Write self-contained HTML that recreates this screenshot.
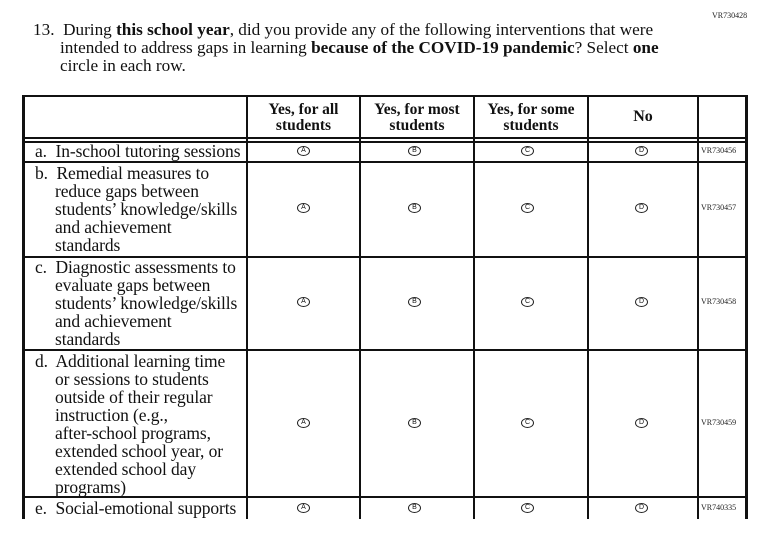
<!DOCTYPE html>
<html><head><meta charset="utf-8"><style>
body{margin:0;width:769px;height:534px;background:#fff;position:relative;font-family:"Liberation Serif",serif;color:#111;overflow:hidden}
.a{position:absolute;white-space:nowrap}
.t{font-size:17.5px;line-height:18px;letter-spacing:-0.1px}
.tt{font-size:17.2px;line-height:18px}
.vl{position:absolute;background:#111}
.hl{position:absolute;background:#111;height:1.5px}
.h{position:absolute;font-weight:bold;font-size:15.5px;line-height:16px;text-align:center}
.c{position:absolute;width:11px;height:8px;border:1px solid #222;border-radius:50%;font-size:7px;line-height:8px;text-align:center;font-family:"Liberation Sans",sans-serif}
.vr{position:absolute;font-size:8px;color:#222}
</style></head><body>
<div class="vr" style="left:712px;top:11px">VR730428</div>
<div class="a tt" style="left:33px;top:21px">13.&nbsp; During <b>this school year</b>, did you provide any of the following interventions that were</div>
<div class="a tt" style="left:60px;top:39px">intended to address gaps in learning <b>because of the COVID-19 pandemic</b>? Select <b>one</b></div>
<div class="a tt" style="left:60px;top:57px">circle in each row.</div>

<div class="hl" style="left:22px;top:95px;width:726px;height:2px"></div>
<div class="hl" style="left:22px;top:137px;width:726px"></div>
<div class="hl" style="left:22px;top:141px;width:726px"></div>
<div class="hl" style="left:22px;top:161px;width:726px"></div>
<div class="hl" style="left:22px;top:256px;width:726px"></div>
<div class="hl" style="left:22px;top:349px;width:726px"></div>
<div class="hl" style="left:22px;top:496px;width:726px"></div>

<div class="vl" style="left:22px;top:95px;width:3px;height:424px"></div>
<div class="vl" style="left:246px;top:95px;width:2px;height:424px"></div>
<div class="vl" style="left:359px;top:95px;width:2px;height:424px"></div>
<div class="vl" style="left:473px;top:95px;width:2px;height:424px"></div>
<div class="vl" style="left:587px;top:95px;width:2px;height:424px"></div>
<div class="vl" style="left:697px;top:95px;width:2px;height:424px"></div>
<div class="vl" style="left:745px;top:95px;width:3px;height:424px"></div>

<div class="h" style="left:248px;width:111px;top:102px">Yes, for all<br>students</div>
<div class="h" style="left:361px;width:112px;top:102px">Yes, for most<br>students</div>
<div class="h" style="left:475px;width:112px;top:102px">Yes, for some<br>students</div>
<div class="h" style="left:589px;width:108px;top:109px;font-size:16px">No</div>

<div class="a t" style="left:35px;top:142px">a.&nbsp; In-school tutoring sessions</div>
<div class="a t" style="left:35px;top:164px">b.&nbsp; Remedial measures to</div>
<div class="a t" style="left:55px;top:182px">reduce gaps between<br>students’ knowledge/skills<br>and achievement<br>standards</div>
<div class="a t" style="left:35px;top:258px">c.&nbsp; Diagnostic assessments to</div>
<div class="a t" style="left:55px;top:276px">evaluate gaps between<br>students’ knowledge/skills<br>and achievement<br>standards</div>
<div class="a t" style="left:35px;top:352px">d.&nbsp; Additional learning time</div>
<div class="a t" style="left:55px;top:370px">or sessions to students<br>outside of their regular<br>instruction (e.g.,<br>after-school programs,<br>extended school year, or<br>extended school day<br>programs)</div>
<div class="a t" style="left:35px;top:499px">e.&nbsp; Social-emotional supports</div>

<div class="c" style="left:297px;top:146px">A</div><div class="c" style="left:408px;top:146px">B</div><div class="c" style="left:521px;top:146px">C</div><div class="c" style="left:635px;top:146px">D</div><div class="vr" style="left:701px;top:146px">VR730456</div>
<div class="c" style="left:297px;top:203px">A</div><div class="c" style="left:408px;top:203px">B</div><div class="c" style="left:521px;top:203px">C</div><div class="c" style="left:635px;top:203px">D</div><div class="vr" style="left:701px;top:203px">VR730457</div>
<div class="c" style="left:297px;top:297px">A</div><div class="c" style="left:408px;top:297px">B</div><div class="c" style="left:521px;top:297px">C</div><div class="c" style="left:635px;top:297px">D</div><div class="vr" style="left:701px;top:297px">VR730458</div>
<div class="c" style="left:297px;top:418px">A</div><div class="c" style="left:408px;top:418px">B</div><div class="c" style="left:521px;top:418px">C</div><div class="c" style="left:635px;top:418px">D</div><div class="vr" style="left:701px;top:418px">VR730459</div>
<div class="c" style="left:297px;top:503px">A</div><div class="c" style="left:408px;top:503px">B</div><div class="c" style="left:521px;top:503px">C</div><div class="c" style="left:635px;top:503px">D</div><div class="vr" style="left:701px;top:503px">VR740335</div>
</body></html>
